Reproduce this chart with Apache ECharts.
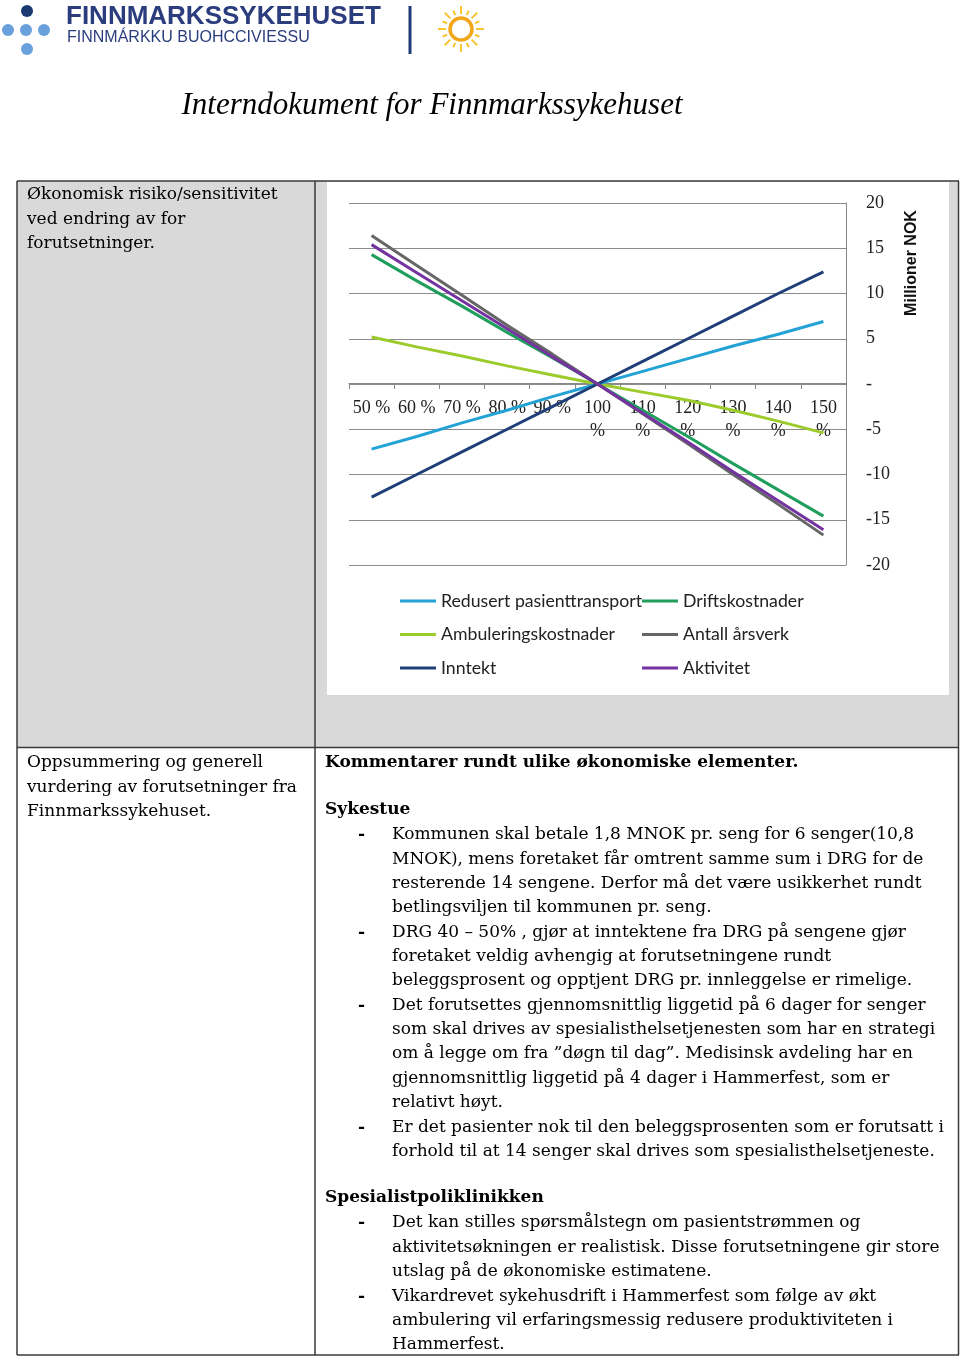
<!DOCTYPE html>
<html>
<head>
<meta charset="utf-8">
<script src="https://cdn.jsdelivr.net/npm/echarts@6/dist/echarts.min.js"></script>
<style>
html,body{margin:0;padding:0;background:#fff;}
#c{width:960px;height:1358px;}
</style>
</head>
<body>
<div id="c"></div>
<script>
// ---- chart data ----
var categories = ['50 %','60 %','70 %','80 %','90 %','100\n%','110\n%','120\n%','130\n%','140\n%','150\n%'];
var redusertPasienttransport = [-7.2,-5.8,-4.3,-2.9,-1.4,0,1.4,2.8,4.2,5.5,6.9];
var driftskostnader = [14.3,11.4,8.6,5.7,2.9,0,-2.9,-5.8,-8.8,-11.7,-14.6];
var ambuleringskostnader = [5.2,4.1,3.1,2.0,1.0,0,-0.9,-1.8,-2.9,-4.1,-5.4];
var antallArsverk = [16.4,13.1,9.8,6.5,3.3,0,-3.3,-6.6,-10.0,-13.3,-16.7];
var inntekt = [-12.5,-10.0,-7.5,-5.0,-2.5,0,2.5,5.0,7.5,10.0,12.4];
var aktivitet = [15.4,12.3,9.2,6.1,3.0,0,-3.2,-6.4,-9.7,-12.9,-16.1];
var yMin = -20, yMax = 20, yStep = 5;
var seriesNames = ['Redusert pasienttransport','Driftskostnader','Ambuleringskostnader','Antall årsverk','Inntekt','Aktivitet'];

// ---- document text ----
var titleText = 'Interndokument for Finnmarkssykehuset';
var leftCell1 = ['Økonomisk risiko/sensitivitet','ved endring av for','forutsetninger.'];
var leftCell2 = ['Oppsummering og generell','vurdering av forutsetninger fra','Finnmarkssykehuset.'];
var heading1 = 'Kommentarer rundt ulike økonomiske elementer.';
var heading2 = 'Sykestue';
var heading3 = 'Spesialistpoliklinikken';
var sykestueBullets = [
  ['Kommunen skal betale 1,8 MNOK pr. seng for 6 senger(10,8','MNOK), mens foretaket får omtrent samme sum i DRG for de','resterende 14 sengene. Derfor må det være usikkerhet rundt','betlingsviljen til kommunen pr. seng.'],
  ['DRG 40 – 50% , gjør at inntektene fra DRG på sengene gjør','foretaket veldig avhengig at forutsetningene rundt','beleggsprosent og opptjent DRG pr. innleggelse er rimelige.'],
  ['Det forutsettes gjennomsnittlig liggetid på 6 dager for senger','som skal drives av spesialisthelsetjenesten som har en strategi','om å legge om fra ”døgn til dag”. Medisinsk avdeling har en','gjennomsnittlig liggetid på 4 dager i Hammerfest, som er','relativt høyt.'],
  ['Er det pasienter nok til den beleggsprosenten som er forutsatt i','forhold til at 14 senger skal drives som spesialisthelsetjeneste.']
];
var polikBullets = [
  ['Det kan stilles spørsmålstegn om pasientstrømmen og','aktivitetsøkningen er realistisk. Disse forutsetningene gir store','utslag på de økonomiske estimatene.'],
  ['Vikardrevet sykehusdrift i Hammerfest som følge av økt','ambulering vil erfaringsmessig redusere produktiviteten i','Hammerfest.']
];

var SERIF = '"Liberation Serif", "DejaVu Serif", serif';
var BODY = '"DejaVu Serif", serif';
var bodyFont = '17px ' + BODY;
var boldFont = 'bold 17px ' + BODY;
var LH = 24.2;

var g = [];
function txt(x, y, s, font, extra) {
  var o = {type:'text', x:x, y:y, silent:true, style:{text:s, font:font || bodyFont, fill:'#000', verticalAlign:'middle', align:'left'}};
  if (extra) for (var k in extra) o.style[k] = extra[k];
  g.push(o);
}
function rect(x, y, w, h, fill, z) {
  g.push({type:'rect', silent:true, z: z||0, shape:{x:x,y:y,width:w,height:h}, style:{fill:fill}});
}
function line(x1,y1,x2,y2,stroke,w,z){
  g.push({type:'line', silent:true, z: z||10, shape:{x1:x1,y1:y1,x2:x2,y2:y2}, style:{stroke:stroke, lineWidth:w}});
}

// backgrounds of first row
rect(17,181,298,567,'#d9d9d9',-10);
rect(315,181,644,567,'#d9d9d9',-10);
rect(327,182,622,513,'#ffffff',-9);

// table borders
var B = '#3a3a3a';
line(17,181,959,181,B,1.5);
line(17,1355,959,1355,B,1.5);
line(17,747.5,959,747.5,B,1.5);
line(17,181,17,1355,B,1.5);
line(958.5,181,958.5,1355,B,1.5);
line(315,181,315,1355,B,1.5);

// header logo
var dotDark = '#1c3a72', dotLight = '#6aa0dc';
g.push({type:'circle', silent:true, shape:{cx:27,cy:11,r:6}, style:{fill:dotDark}});
[[8,30],[26,30],[44,30],[27,49]].forEach(function(p){
  g.push({type:'circle', silent:true, shape:{cx:p[0],cy:p[1],r:6}, style:{fill:dotLight}});
});
txt(66,17,'FINNMARKSSYKEHUSET','bold 26px "Liberation Sans", Arial, sans-serif',{fill:'#2b3d7d'});
txt(67,38,'FINNMÁRKKU BUOHCCIVIESSU','16px "Liberation Sans", Arial, sans-serif',{fill:'#2b3d7d'});
line(410,6,410,54,'#1f3a7a',3);
g.push({type:'circle', silent:true, shape:{cx:461,cy:29,r:11}, style:{fill:'none', stroke:'#f2a71b', lineWidth:3.5}});
for (var i=0;i<16;i++){
  var a = i*Math.PI/8;
  line(461+Math.cos(a)*15, 29+Math.sin(a)*15, 461+Math.cos(a)*(i%2?20:23), 29+Math.sin(a)*(i%2?20:23), '#f7c530', 2);
}

// title
txt(432,106,titleText,'italic 31px ' + SERIF,{align:'center'});

// left cells
leftCell1.forEach(function(s,i){ txt(27,195+i*LH,s); });
leftCell2.forEach(function(s,i){ txt(27,763+i*LH,s); });

// right lower cell
txt(325,763,heading1,boldFont);
txt(325,810,heading2,boldFont);
var y = 835;
sykestueBullets.forEach(function(b){
  txt(358,y,'-',boldFont);
  b.forEach(function(s){ txt(392,y,s); y += LH; });
  y += 0.6;
});
txt(325,1198,heading3,boldFont);
y = 1223;
polikBullets.forEach(function(b){
  txt(358,y,'-',boldFont);
  b.forEach(function(s){ txt(392,y,s); y += LH; });
  y += 0.6;
});

// y-axis name
g.push({type:'text', silent:true, x:912, y:263, rotation:Math.PI/2, style:{text:'Millioner NOK', font:'bold 16px "Liberation Sans", Arial, sans-serif', fill:'#111', align:'center', verticalAlign:'middle'}});

var colors = ['#23a2d6','#1f9e5c','#9ccb2c','#666666','#1f3f78','#7433a0'];
var dataSets = [redusertPasienttransport, driftskostnader, ambuleringskostnader, antallArsverk, inntekt, aktivitet];
var zs = [3,4,2,5,3,6];
var legendText = {fontFamily:'Lato, "Open Sans", sans-serif', fontSize:17.7, color:'#222', lineHeight:20};

var chart = echarts.init(document.getElementById('c'), null, {renderer:'canvas'});
chart.setOption({
  animation:false,
  backgroundColor:'transparent',
  color: colors,
  grid:[
    {left:349, top:203, width:497, height:362, containLabel:false},
    {left:349, top:203, width:497, height:180, containLabel:false}
  ],
  legend:[
    {data:[seriesNames[0],seriesNames[2],seriesNames[4]], orient:'vertical', left:400, top:591, padding:0, itemWidth:36, itemHeight:3, itemGap:13.5, icon:'rect', selectedMode:false, textStyle:legendText},
    {data:[seriesNames[1],seriesNames[3],seriesNames[5]], orient:'vertical', left:642, top:591, padding:0, itemWidth:36, itemHeight:3, itemGap:13.5, icon:'rect', selectedMode:false, textStyle:legendText}
  ],
  xAxis:[
    {type:'category', gridIndex:0, data:categories, boundaryGap:true,
     axisLine:{show:false}, axisTick:{show:false}, axisLabel:{show:false}, splitLine:{show:false}},
    {type:'category', gridIndex:1, data:categories, boundaryGap:true, position:'bottom',
     axisLine:{show:true, onZero:false, lineStyle:{color:'#888', width:1}},
     axisTick:{show:true, length:6, lineStyle:{color:'#888'}},
     axisLabel:{interval:0, margin:14, color:'#222', fontFamily:SERIF, fontSize:18, lineHeight:23},
     splitLine:{show:false}}
  ],
  yAxis:[
    {type:'value', gridIndex:0, position:'right', min:yMin, max:yMax, interval:yStep,
     axisLine:{show:true, lineStyle:{color:'#888'}},
     axisTick:{show:true, inside:true, length:5, lineStyle:{color:'#888'}},
     axisLabel:{margin:20, color:'#222', fontFamily:SERIF, fontSize:18, formatter:function(v){return v===0?'-':String(v);}},
     splitLine:{show:true, lineStyle:{color:'#8c8c8c', width:1}}},
    {type:'value', gridIndex:1, min:0, max:1, show:false}
  ],
  series: seriesNames.map(function(n,i){
    return {name:n, type:'line', xAxisIndex:0, yAxisIndex:0, data:dataSets[i], symbol:'none', z:zs[i], lineStyle:{width:3, color:colors[i]}, itemStyle:{color:colors[i]}};
  }),
  graphic: g
});
</script>
</body>
</html>
